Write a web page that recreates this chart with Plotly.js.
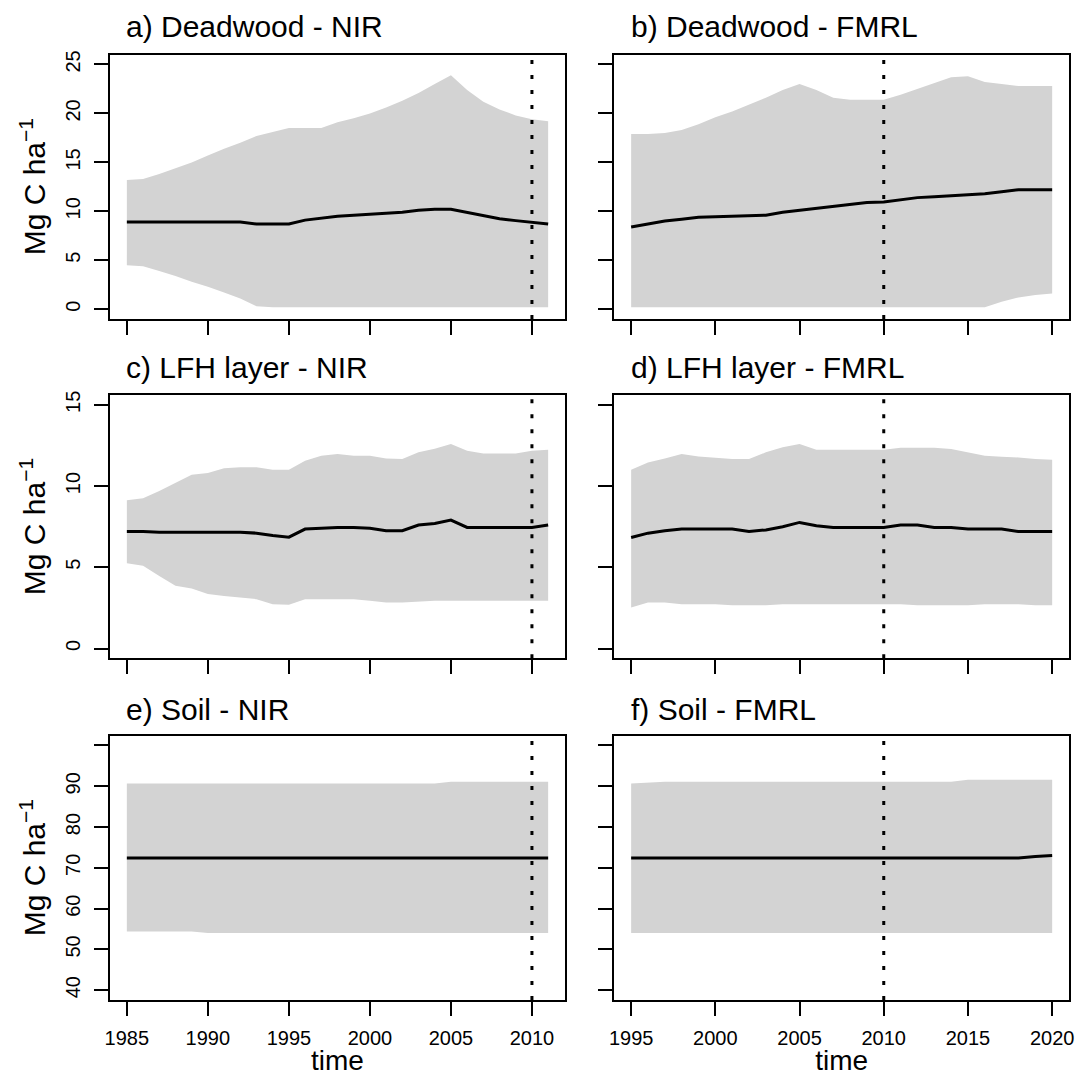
<!DOCTYPE html>
<html>
<head>
<meta charset="utf-8">
<script src="https://cdn.plot.ly/plotly-3.0.1.min.js"></script>
<style>html,body{margin:0;padding:0;background:#fff;}</style>
</head>
<body>
<div id="chart" style="width:1079px;height:1076px;"></div>
<script>
// ---------- data ----------
const yearsNIR  = [1985,1986,1987,1988,1989,1990,1991,1992,1993,1994,1995,1996,1997,1998,1999,2000,2001,2002,2003,2004,2005,2006,2007,2008,2009,2010,2011];
const yearsFMRL = [1995,1996,1997,1998,1999,2000,2001,2002,2003,2004,2005,2006,2007,2008,2009,2010,2011,2012,2013,2014,2015,2016,2017,2018,2019,2020];

const deadwoodNIRMedian = [8.9,8.9,8.9,8.9,8.9,8.9,8.9,8.9,8.7,8.7,8.7,9.1,9.3,9.5,9.6,9.7,9.8,9.9,10.1,10.2,10.2,9.9,9.6,9.25,9.05,8.85,8.7];
const deadwoodNIRUpper  = [13.2,13.3,13.8,14.4,15.0,15.7,16.4,17.0,17.7,18.1,18.5,18.5,18.5,19.1,19.5,20.0,20.6,21.3,22.1,23.0,23.9,22.4,21.2,20.4,19.8,19.4,19.2];
const deadwoodNIRLower  = [4.5,4.4,3.9,3.4,2.8,2.3,1.7,1.1,0.3,0.2,0.2,0.2,0.2,0.2,0.2,0.2,0.2,0.2,0.2,0.2,0.2,0.2,0.2,0.2,0.2,0.2,0.2];

const deadwoodFMRLMedian = [8.4,8.7,9.0,9.2,9.4,9.45,9.5,9.5,9.6,9.9,10.1,10.3,10.5,10.7,10.9,10.95,11.2,11.4,11.5,11.6,11.7,11.8,12.0,12.2,12.2,12.2];
const deadwoodFMRLUpper  = [17.9,17.9,18.0,18.3,18.9,19.6,20.2,20.9,21.6,22.4,23.0,22.4,21.6,21.4,21.4,21.4,21.9,22.5,23.1,23.7,23.8,23.2,23.0,22.8,22.8,22.8];
const deadwoodFMRLLower  = [0.2,0.2,0.2,0.2,0.2,0.2,0.2,0.2,0.2,0.2,0.2,0.2,0.2,0.2,0.2,0.2,0.2,0.2,0.2,0.2,0.2,0.2,0.77,1.2,1.45,1.6];

const lfhNIRMedian = [7.2,7.2,7.15,7.15,7.15,7.15,7.15,7.15,7.1,6.95,6.85,7.35,7.4,7.45,7.45,7.4,7.25,7.25,7.6,7.7,7.9,7.45,7.45,7.45,7.45,7.45,7.6];
const lfhNIRUpper  = [9.13,9.24,9.7,10.2,10.7,10.8,11.1,11.15,11.15,11.0,11.0,11.56,11.86,11.97,11.86,11.86,11.7,11.66,12.07,12.3,12.58,12.17,12.0,12.0,12.0,12.17,12.23];
const lfhNIRLower  = [5.25,5.09,4.47,3.86,3.69,3.35,3.24,3.14,3.04,2.73,2.69,3.04,3.04,3.04,3.04,2.94,2.83,2.83,2.9,2.94,2.94,2.94,2.94,2.94,2.94,2.94,2.94];

const lfhFMRLMedian = [6.83,7.1,7.25,7.35,7.35,7.35,7.35,7.2,7.3,7.49,7.76,7.55,7.45,7.45,7.45,7.45,7.6,7.6,7.45,7.45,7.35,7.35,7.35,7.2,7.2,7.2];
const lfhFMRLUpper  = [11.0,11.45,11.7,11.97,11.82,11.76,11.66,11.66,12.07,12.38,12.58,12.23,12.23,12.23,12.23,12.23,12.36,12.36,12.36,12.27,12.07,11.86,11.8,11.76,11.66,11.62];
const lfhFMRLLower  = [2.52,2.83,2.83,2.73,2.73,2.73,2.67,2.67,2.67,2.73,2.73,2.73,2.73,2.73,2.73,2.73,2.73,2.67,2.67,2.67,2.67,2.73,2.73,2.73,2.67,2.67];

const soilNIRMedian = [72.4,72.4,72.4,72.4,72.4,72.4,72.4,72.4,72.4,72.4,72.4,72.4,72.4,72.4,72.4,72.4,72.4,72.4,72.4,72.4,72.4,72.4,72.4,72.4,72.4,72.4,72.4];
const soilNIRUpper  = [90.7,90.7,90.7,90.7,90.7,90.7,90.7,90.7,90.7,90.7,90.7,90.7,90.7,90.7,90.7,90.7,90.7,90.7,90.7,90.7,91.1,91.1,91.1,91.1,91.1,91.1,91.1];
const soilNIRLower  = [54.4,54.4,54.4,54.4,54.4,54.0,54.0,54.0,54.0,54.0,54.0,54.0,54.0,54.0,54.0,54.0,54.0,54.0,54.0,54.0,54.0,54.0,54.0,54.0,54.0,54.0,54.0];

const soilFMRLMedian = [72.4,72.4,72.4,72.4,72.4,72.4,72.4,72.4,72.4,72.4,72.4,72.4,72.4,72.4,72.4,72.4,72.4,72.4,72.4,72.4,72.4,72.4,72.4,72.4,72.8,73.0];
const soilFMRLUpper  = [90.7,90.9,91.1,91.1,91.1,91.1,91.1,91.1,91.1,91.1,91.1,91.1,91.1,91.1,91.1,91.1,91.1,91.1,91.1,91.1,91.6,91.6,91.6,91.6,91.6,91.6];
const soilFMRLLower  = [54.0,54.0,54.0,54.0,54.0,54.0,54.0,54.0,54.0,54.0,54.0,54.0,54.0,54.0,54.0,54.0,54.0,54.0,54.0,54.0,54.0,54.0,54.0,54.0,54.0,54.0];

const panelTitles = ['a) Deadwood - NIR','b) Deadwood - FMRL','c) LFH layer - NIR','d) LFH layer - FMRL','e) Soil - NIR','f) Soil - FMRL'];
const xTicksNIR  = [1985,1990,1995,2000,2005,2010];
const xTicksFMRL = [1995,2000,2005,2010,2015,2020];
const yTicksDeadwood = [0,5,10,15,20,25];
const yTicksLFH      = [0,5,10,15];
const yTicksSoil     = [40,50,60,70,80,90];
const yTicksSoilUnlabelled = [100];
const referenceYear = 2010;
const yTitle = 'Mg C ha<sup>\u22121</sup>';
const xTitle = 'time';

// ---------- layout helpers ----------
const FONT = '"Liberation Sans", Arial, Helvetica, sans-serif';
const BAND = '#D3D3D3';
const W = 1079, H = 1076;
const colPx = [[110, 565], [614.3, 1069]];
const rowPx = [[54.7, 319], [395, 658.3], [735.7, 1000]];

const panels = [
  {years: yearsNIR,  med: deadwoodNIRMedian,  up: deadwoodNIRUpper,  lo: deadwoodNIRLower,  xr:[1983.96,2012.04], yr:[-1,26],      xt:xTicksNIR,  yt:yTicksDeadwood, ym:null},
  {years: yearsFMRL, med: deadwoodFMRLMedian, up: deadwoodFMRLUpper, lo: deadwoodFMRLLower, xr:[1994,2021],       yr:[-1,26],      xt:xTicksFMRL, yt:yTicksDeadwood, ym:null},
  {years: yearsNIR,  med: lfhNIRMedian,       up: lfhNIRUpper,       lo: lfhNIRLower,       xr:[1983.96,2012.04], yr:[-0.6,15.6],  xt:xTicksNIR,  yt:yTicksLFH,      ym:null},
  {years: yearsFMRL, med: lfhFMRLMedian,      up: lfhFMRLUpper,      lo: lfhFMRLLower,      xr:[1994,2021],       yr:[-0.6,15.6],  xt:xTicksFMRL, yt:yTicksLFH,      ym:null},
  {years: yearsNIR,  med: soilNIRMedian,      up: soilNIRUpper,      lo: soilNIRLower,      xr:[1983.96,2012.04], yr:[37.6,102.4], xt:xTicksNIR,  yt:yTicksSoil,     ym:yTicksSoilUnlabelled},
  {years: yearsFMRL, med: soilFMRLMedian,     up: soilFMRLUpper,     lo: soilFMRLLower,     xr:[1994,2021],       yr:[37.6,102.4], xt:xTicksFMRL, yt:yTicksSoil,     ym:yTicksSoilUnlabelled}
];

const traces = [];
const layout = {
  width: W, height: H,
  margin: {l:0, r:0, t:0, b:0},
  paper_bgcolor: '#fff', plot_bgcolor: '#fff',
  showlegend: false,
  font: {family: FONT, color: '#000'},
  shapes: [], annotations: []
};

panels.forEach((p, i) => {
  const n = i + 1;
  const xa = n === 1 ? 'x' : 'x' + n;
  const ya = n === 1 ? 'y' : 'y' + n;
  const col = i % 2, row = Math.floor(i / 2);
  const left = col === 0, bottom = row === 2;

  traces.push({x: p.years, y: p.lo, type:'scatter', mode:'lines', line:{width:0, color:BAND},
               xaxis: xa, yaxis: ya, hoverinfo:'skip', showlegend:false});
  traces.push({x: p.years, y: p.up, type:'scatter', mode:'lines', line:{width:0, color:BAND},
               fill:'tonexty', fillcolor: BAND, xaxis: xa, yaxis: ya, hoverinfo:'skip', showlegend:false});
  traces.push({x: p.years, y: p.med, type:'scatter', mode:'lines', line:{width:3, color:'#000'},
               xaxis: xa, yaxis: ya, showlegend:false});

  const common = {showline:true, mirror:true, linecolor:'#000', linewidth:2,
                  ticks:'outside', ticklen:14, tickwidth:2, tickcolor:'#000',
                  showgrid:false, zeroline:false, fixedrange:true,
                  tickfont:{family:FONT, size:20, color:'#000'}};

  const xKey = n === 1 ? 'xaxis' : 'xaxis' + n;
  const yKey = n === 1 ? 'yaxis' : 'yaxis' + n;
  layout[xKey] = Object.assign({}, common, {
    domain: [colPx[col][0] / W, colPx[col][1] / W],
    anchor: ya, range: p.xr, tickmode:'array', tickvals: p.xt,
    showticklabels: bottom, ticklabelstandoff: 5
  });
  if (bottom) {
    layout[xKey].title = {text: xTitle, font:{family:FONT, size:28, color:'#000'}, standoff: 10};
  }
  const yAxis = Object.assign({}, common, {
    domain: [1 - rowPx[row][1] / H, 1 - rowPx[row][0] / H],
    anchor: xa, range: p.yr, tickmode:'array', tickvals: p.yt,
    showticklabels: left, tickangle: -90, ticklabelstandoff: 6
  });
  if (p.ym) {
    yAxis.minor = {tickmode:'array', tickvals: p.ym, ticks:'outside', ticklen:14, tickwidth:2, tickcolor:'#000', showgrid:false};
  }
  layout[yKey] = yAxis;

  if (left) {
    layout.annotations.push({text: yTitle, xref:'paper', yref:'paper', textangle:-90,
                             x: 53.5 / W, y: 1 - (rowPx[row][0] + rowPx[row][1]) / 2 / H,
                             xanchor:'right', yanchor:'middle', showarrow:false,
                             font:{family:FONT, size:30, color:'#000'}});
  }

  layout.shapes.push({type:'line', xref: xa, yref: ya + ' domain', x0: referenceYear, x1: referenceYear,
                      y0: 0, y1: 1, line:{color:'#000', width:3, dash:'4px,11px'}, layer:'above'});

  const titleX = (col === 0 ? 124 : 629) / W;
  const titleYpx = [27, 367, 709][row];
  layout.annotations.push({text: panelTitles[i], xref:'paper', yref:'paper', x: titleX, y: 1 - titleYpx / H,
                           xanchor:'left', yanchor:'middle', showarrow:false,
                           font:{family:FONT, size:30, color:'#000'}});
});

Plotly.newPlot('chart', traces, layout, {displayModeBar:false, staticPlot:true});
</script>
</body>
</html>
